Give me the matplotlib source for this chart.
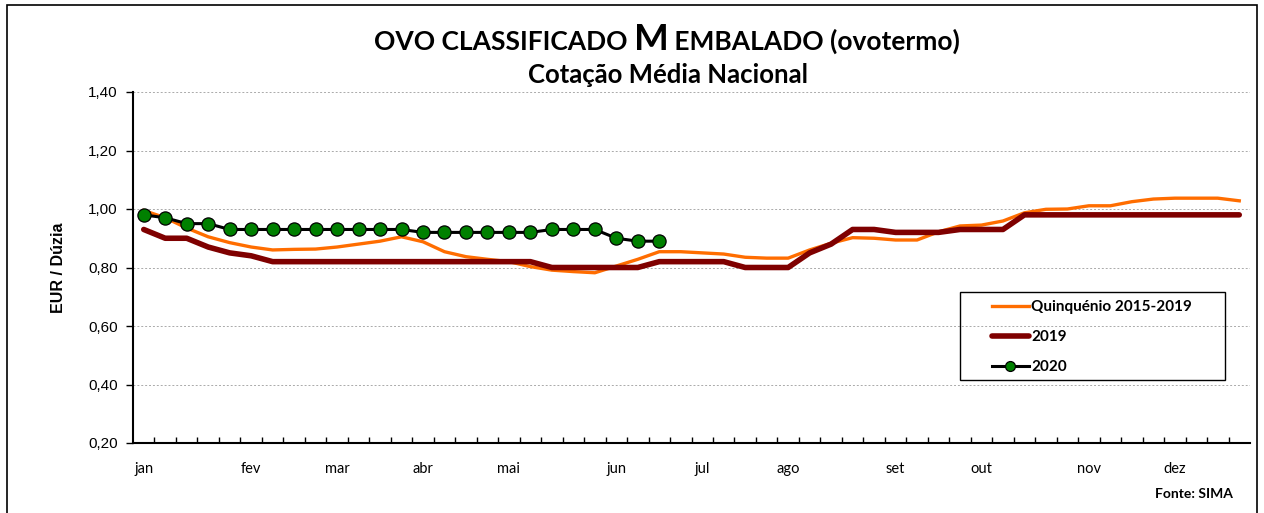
import numpy as np
import matplotlib
matplotlib.use('Agg')
import matplotlib.pyplot as plt
from matplotlib.patches import Rectangle
from matplotlib.ticker import FuncFormatter

# weekly prices (EUR / dozen), 52 weeks
quinquenio = [0.995, 0.97, 0.935, 0.905, 0.885, 0.87, 0.86, 0.862, 0.863, 0.87,
              0.88, 0.89, 0.905, 0.888, 0.854, 0.837, 0.828, 0.82, 0.803, 0.791,
              0.786, 0.782, 0.805, 0.828, 0.854, 0.854, 0.85, 0.846, 0.835, 0.832,
              0.832, 0.86, 0.883, 0.902, 0.90, 0.894, 0.894, 0.922, 0.942, 0.945,
              0.959, 0.987, 0.999, 1.0, 1.011, 1.011, 1.025, 1.034, 1.037, 1.037,
              1.037, 1.028]
ano_2019 = [0.93, 0.90, 0.90, 0.87, 0.85, 0.84, 0.82, 0.82, 0.82, 0.82,
            0.82, 0.82, 0.82, 0.82, 0.82, 0.82, 0.82, 0.82, 0.82, 0.80,
            0.80, 0.80, 0.80, 0.80, 0.82, 0.82, 0.82, 0.82, 0.80, 0.80,
            0.80, 0.85, 0.88, 0.93, 0.93, 0.92, 0.92, 0.92, 0.93, 0.93,
            0.93, 0.98, 0.98, 0.98, 0.98, 0.98, 0.98, 0.98, 0.98, 0.98,
            0.98, 0.98]
ano_2020 = [0.98, 0.97, 0.95, 0.95, 0.93, 0.93, 0.93, 0.93, 0.93, 0.93,
            0.93, 0.93, 0.93, 0.92, 0.92, 0.92, 0.92, 0.92, 0.92, 0.93,
            0.93, 0.93, 0.90, 0.89, 0.89]
meses = ['jan', 'fev', 'mar', 'abr', 'mai', 'jun', 'jul', 'ago', 'set', 'out', 'nov', 'dez']
semana_mes = [0, 5, 9, 13, 17, 22, 26, 30, 35, 39, 44, 48]

W, H = 1264, 513
fig = plt.figure(figsize=(W / 100, H / 100), dpi=100)
ax = fig.add_axes([133 / W, 1 - 443 / H, (1250 - 133) / W, (443 - 92) / H])

# outer frame
fig.patches.append(Rectangle((7 / W, -0.05), (1257 - 7) / W, 1 - 5 / H + 0.05,
                             transform=fig.transFigure, fill=False,
                             edgecolor='black', linewidth=1.2))

x_all = np.arange(52) + 0.5
ax.plot(x_all, quinquenio, color='#FF6D00', lw=2.4, label='Quinquénio 2015-2019', zorder=3)
ax.plot(x_all, ano_2019, color='#7F0000', lw=4.0, label='2019', zorder=4,
        solid_capstyle='round')
ax.plot(x_all[:len(ano_2020)], ano_2020, color='black', lw=2.2, marker='o',
        markersize=9.5, markerfacecolor='#008000', markeredgecolor='black',
        markeredgewidth=0.9, label='2020', zorder=5)

ax.set_xlim(0, 52)
ax.set_ylim(0.2, 1.4)
ax.set_yticks(np.arange(0.2, 1.41, 0.2))
ax.yaxis.set_major_formatter(FuncFormatter(lambda v, p: f'{v:.2f}'.replace('.', ',')))
ax.grid(axis='y', color='#AAAAAA', linestyle=(0, (2, 2)), linewidth=0.7)
ax.set_axisbelow(True)

ax.set_xticks(np.array(semana_mes) + 0.5)
ax.set_xticklabels(meses, fontfamily='Lato', fontsize=10.5)
ax.set_xticks(np.arange(1, 52), minor=True)
ax.tick_params(axis='x', which='major', length=0, pad=14)
ax.tick_params(axis='x', which='minor', direction='in', length=4, width=1, color='black')
ax.tick_params(axis='y', direction='out', length=5, width=1, labelsize=11, pad=6)
for t in ax.get_yticklabels():
    t.set_fontfamily('Liberation Sans')

for s in ['top', 'right']:
    ax.spines[s].set_visible(False)
for s in ['left', 'bottom']:
    ax.spines[s].set_linewidth(1.5)

ax.set_ylabel('EUR / Dúzia', fontfamily='Liberation Sans', fontweight='bold',
              fontsize=11.5, labelpad=16)

# legend with its own frame
lx0, lx1, ly0, ly1 = 960, 1225, 292, 380
ax.add_patch(Rectangle(((lx0 - 133) / 1117, (443 - ly1) / 351), (lx1 - lx0) / 1117,
                       (ly1 - ly0) / 351, transform=ax.transAxes, fill=False,
                       edgecolor='black', linewidth=1.0, zorder=6))
leg = ax.legend(loc='upper left', bbox_to_anchor=((992 - 133) / 1117, (443 - 300) / 351),
                frameon=False, handlelength=2.4, handletextpad=0.15, labelspacing=1.05,
                borderpad=0, borderaxespad=0, markerscale=0.75,
                prop={'family': 'Lato', 'weight': 'bold', 'size': 11})
leg.set_zorder(7)

# title with a larger "M"
parts = [('OVO CLASSIFICADO ', 19), ('M', 26.5), (' EMBALADO (ovotermo)', 19)]
texts = [fig.text(0, 1 - 50 / H, s, fontsize=sz, fontweight='bold', fontfamily='Lato',
                  va='baseline', ha='left') for s, sz in parts]
fig.canvas.draw()
r = fig.canvas.get_renderer()
widths = [t.get_window_extent(r).width for t in texts]
x = 667 - sum(widths) / 2
for t, w in zip(texts, widths):
    t.set_x(x / W)
    x += w

fig.text(668 / W, 1 - 83 / H, 'Cotação Média Nacional', fontsize=18.5, fontweight='bold',
         fontfamily='Lato', ha='center', va='baseline')
fig.text(1233 / W, 1 - 498 / H, 'Fonte: SIMA', fontsize=10, fontweight='bold',
         fontfamily='Lato', ha='right', va='baseline')

fig.savefig('out.png', dpi=100)
